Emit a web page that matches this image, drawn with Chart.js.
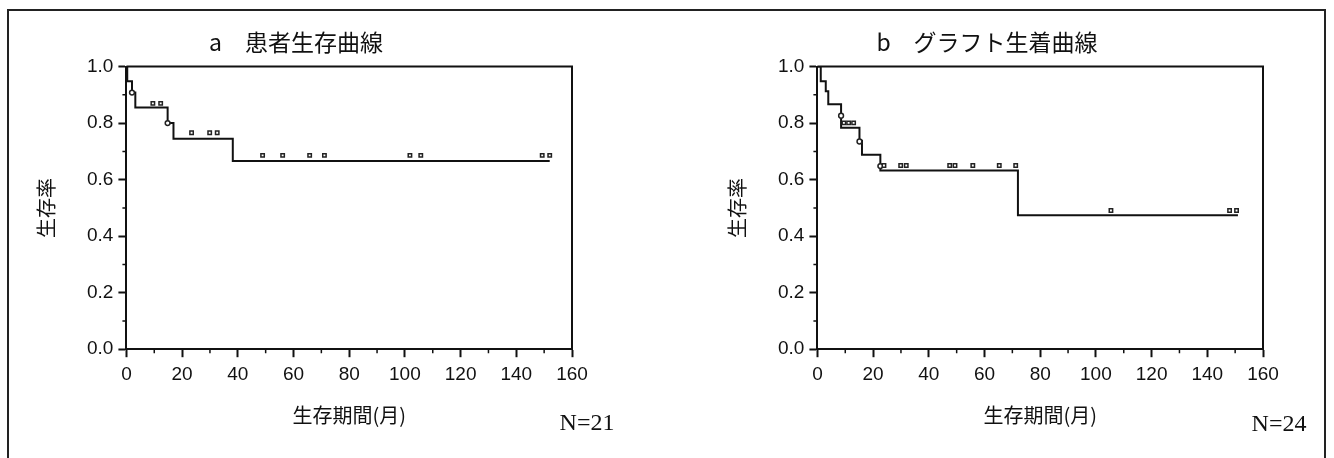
<!DOCTYPE html>
<html>
<head>
<meta charset="utf-8">
<script src="https://cdn.jsdelivr.net/npm/chart.js@4.4.1/dist/chart.umd.min.js"></script>
<style>
  html, body { margin: 0; padding: 0; background: #fff; }
  body { width: 1334px; height: 458px; position: relative; overflow: hidden; }
  #frame { position: absolute; left: 7px; top: 9px; width: 1319px; height: 480px; border: 2px solid #222; box-sizing: border-box; }
  canvas { position: absolute; top: 0; }
  #cA { left: 0px; }
  #cB { left: 691px; }
  .nlab { position: absolute; font-family: "Liberation Serif", "Times New Roman", serif; font-size: 24px; color: #111; transform: translate(-50%, -50%); white-space: nowrap; }
</style>
</head>
<body>
<div id="frame"></div>
<canvas id="cA" width="643" height="458"></canvas>
<canvas id="cB" width="643" height="458"></canvas>
<div class="nlab" id="nA" style="left:587px; top:422px;"></div>
<div class="nlab" id="nB" style="left:1279px; top:423px;"></div>
<script>
// ---- Text ----
const titleA = 'a\u3000患者生存曲線';
const titleB = 'b\u3000グラフト生着曲線';
const yAxisLabel = '生存率';
const xAxisLabel = '生存期間(月)';
const nLabelA = 'N=21';
const nLabelB = 'N=24';

// ---- Panel a: patient survival (Kaplan-Meier steps) ----
const timeA = [0, 0.3, 2.0, 3.2, 14.8, 16.9, 38.2, 152];
const survA = [1.0, 0.948, 0.908, 0.855, 0.800, 0.745, 0.666, 0.666];
const censTimeA = [9.5, 12.3, 23.4, 29.9, 32.6, 48.9, 56.1, 65.8, 71.1, 101.8, 105.7, 149.3, 152];
const censSurvA = [0.870, 0.870, 0.766, 0.766, 0.766, 0.686, 0.686, 0.686, 0.686, 0.686, 0.686, 0.686, 0.686];
const markTimeA = [2.0, 14.8];
const markSurvA = [0.908, 0.800];

// ---- Panel b: graft survival ----
const timeB = [0, 1.2, 3.0, 3.9, 8.5, 15.1, 16.0, 22.6, 72.0, 151];
const survB = [1.0, 0.948, 0.913, 0.867, 0.784, 0.738, 0.688, 0.632, 0.474, 0.474];
const censTimeB = [9.5, 11.2, 13.0, 23.9, 29.9, 31.9, 47.5, 49.4, 55.8, 65.3, 71.2, 105.4, 148.0, 150.5];
const censSurvB = [0.801, 0.801, 0.801, 0.650, 0.650, 0.650, 0.650, 0.650, 0.650, 0.650, 0.650, 0.491, 0.491, 0.491];
const markTimeB = [8.5, 15.1, 22.6];
const markSurvB = [0.826, 0.735, 0.648];

// ---- Axis ticks ----
const xMin = 0, xMax = 160, xStep = 20;
const yMin = 0, yMax = 1, yStep = 0.2;
const xMinorTicks = [10, 30, 50, 70, 90, 110, 130, 150];
const yMinorTicks = [0.1, 0.3, 0.5, 0.7, 0.9];

const INK = '#111';
const toPts = (xs, ys) => xs.map((x, i) => ({ x: x, y: ys[i] }));

const framePlugin = {
  id: 'frameAndMinor',
  afterDraw(chart) {
    const { ctx, chartArea: a, scales } = chart;
    ctx.save();
    ctx.strokeStyle = INK;
    ctx.lineWidth = 2;
    ctx.beginPath();
    ctx.moveTo(a.left, a.top);
    ctx.lineTo(a.right, a.top);
    ctx.lineTo(a.right, a.bottom);
    ctx.stroke();
    // minor ticks
    ctx.lineWidth = 1.5;
    ctx.beginPath();
    yMinorTicks.forEach(v => {
      const py = scales.y.getPixelForValue(v);
      ctx.moveTo(a.left - 4, py);
      ctx.lineTo(a.left, py);
    });
    xMinorTicks.forEach(v => {
      const px = scales.x.getPixelForValue(v);
      ctx.moveTo(px, a.bottom);
      ctx.lineTo(px, a.bottom + 4);
    });
    ctx.stroke();
    ctx.restore();
  }
};

function makeChart(id, title, times, surv, cT, cS, mT, mS) {
  return new Chart(document.getElementById(id), {
    type: 'scatter',
    data: {
      datasets: [
        {
          type: 'line',
          data: toPts(times, surv),
          stepped: 'before',
          borderColor: INK,
          borderWidth: 2,
          pointRadius: 0,
          fill: false,
          order: 2
        },
        {
          data: toPts(cT, cS),
          pointStyle: 'rect',
          pointRadius: 2.4,
          borderWidth: 1.5,
          borderColor: '#222',
          backgroundColor: '#fff',
          showLine: false,
          order: 1
        },
        {
          data: toPts(mT, mS),
          pointStyle: 'circle',
          pointRadius: 2.4,
          borderWidth: 1.5,
          borderColor: '#222',
          backgroundColor: '#fff',
          showLine: false,
          order: 1
        }
      ]
    },
    options: {
      responsive: false,
      animation: false,
      devicePixelRatio: 1,
      layout: { padding: { left: 20, right: 71, top: 14, bottom: 31 } },
      plugins: {
        legend: { display: false },
        tooltip: { enabled: false },
        title: {
          display: true,
          text: title,
          color: INK,
          font: { family: '"Noto Sans CJK JP", "Noto Sans", sans-serif', size: 23, weight: 'normal' },
          padding: { top: 14, bottom: 11 }
        }
      },
      scales: {
        x: {
          type: 'linear',
          min: xMin, max: xMax,
          ticks: {
            stepSize: xStep,
            color: INK,
            padding: 6,
            font: { family: '"Liberation Sans", Arial, sans-serif', size: 19 },
            maxRotation: 0
          },
          grid: { display: true, drawOnChartArea: false, drawTicks: true, tickLength: 8, tickWidth: 2, tickColor: INK },
          border: { display: true, color: INK, width: 2 },
          title: {
            display: true,
            text: xAxisLabel,
            color: INK,
            font: { family: '"Noto Sans CJK JP", sans-serif', size: 20 },
            padding: { top: 11, bottom: 0 }
          }
        },
        y: {
          type: 'linear',
          min: yMin, max: yMax,
          ticks: {
            stepSize: yStep,
            color: INK,
            padding: 5,
            font: { family: '"Liberation Sans", Arial, sans-serif', size: 19 },
            callback: v => Number(v).toFixed(1)
          },
          grid: { display: true, drawOnChartArea: false, drawTicks: true, tickLength: 8, tickWidth: 2, tickColor: INK },
          border: { display: true, color: INK, width: 2 },
          title: {
            display: true,
            text: yAxisLabel,
            color: INK,
            font: { family: '"Noto Sans CJK JP", sans-serif', size: 20 },
            padding: { top: 14, bottom: 24 }
          }
        }
      }
    },
    plugins: [framePlugin]
  });
}

document.getElementById('nA').textContent = nLabelA;
document.getElementById('nB').textContent = nLabelB;
makeChart('cA', titleA, timeA, survA, censTimeA, censSurvA, markTimeA, markSurvA);
makeChart('cB', titleB, timeB, survB, censTimeB, censSurvB, markTimeB, markSurvB);
</script>
</body>
</html>
